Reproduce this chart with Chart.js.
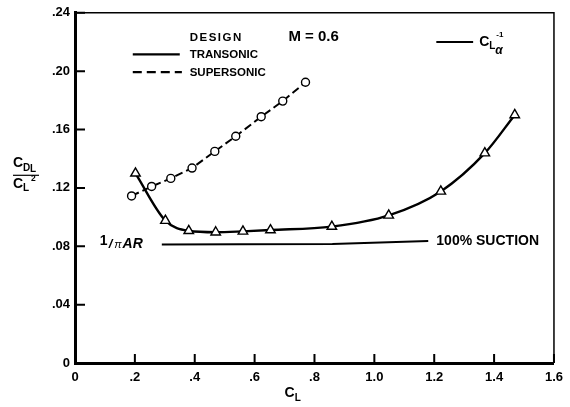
<!DOCTYPE html>
<html>
<head>
    <title>Induced drag factor vs CL</title>
    <script src="https://cdn.jsdelivr.net/npm/chart.js"></script>
    <style>
        body { margin: 0; background: #fff; }
    </style>
</head>
<body>
    <canvas id="dragChart" width="570" height="407"></canvas>

    <script>
        // CL (x) and CDL / CL^2 (y)
        var supersonicCL = [0.189, 0.256, 0.320, 0.391, 0.467, 0.537, 0.622, 0.694, 0.770];
        var supersonicCD = [0.1145, 0.1210, 0.1265, 0.1336, 0.1450, 0.1554, 0.1688, 0.1795, 0.1924];

        var transonicCL = [0.202, 0.302, 0.380, 0.470, 0.561, 0.653, 0.858, 1.048, 1.222, 1.369, 1.469];
        var transonicCD = [0.1300, 0.0976, 0.0906, 0.0896, 0.0902, 0.0911, 0.0935, 0.1012, 0.1176, 0.1438, 0.1700];

        var suctionCL = [0.29, 0.55, 0.86, 1.18];
        var suctionCD = [0.0812, 0.0813, 0.0815, 0.0836];

        var xTickValues = [0, 0.2, 0.4, 0.6, 0.8, 1.0, 1.2, 1.4, 1.6];
        var xTickLabels = ['0', '.2', '.4', '.6', '.8', '1.0', '1.2', '1.4', '1.6'];
        var yTickValues = [0, 0.04, 0.08, 0.12, 0.16, 0.20, 0.24];
        var yTickLabels = ['0', '.04', '.08', '.12', '.16', '.20', '.24'];

        function toPoints(xs, ys) {
            return xs.map(function (v, i) { return { x: v, y: ys[i] }; });
        }

        var FONT = '"Liberation Sans", Arial, sans-serif';

        function txt(ctx, s, x, y, size, style) {
            ctx.font = (style || 'bold') + ' ' + size + 'px ' + FONT;
            ctx.fillText(s, x, y);
            return ctx.measureText(s).width;
        }

        // frame, inward tick marks and all the text on the sheet
        var paperPlugin = {
            id: 'paper',
            afterDraw: function (chart) {
                var ctx = chart.ctx, a = chart.chartArea;
                var xs = chart.scales.x, ys = chart.scales.y;
                function px(v) { return xs.getPixelForValue(v); }
                function py(v) { return ys.getPixelForValue(v); }

                ctx.save();
                ctx.strokeStyle = '#000';
                ctx.fillStyle = '#000';

                ctx.lineWidth = 1.5;
                ctx.beginPath();
                ctx.moveTo(a.left, a.top);
                ctx.lineTo(a.right, a.top);
                ctx.lineTo(a.right, a.bottom);
                ctx.stroke();

                ctx.lineWidth = 2;
                ctx.beginPath();
                xTickValues.forEach(function (v) {
                    ctx.moveTo(px(v), a.bottom);
                    ctx.lineTo(px(v), a.bottom - 9);
                });
                yTickValues.forEach(function (v) {
                    ctx.moveTo(a.left, py(v));
                    ctx.lineTo(a.left + 10, py(v));
                });
                ctx.stroke();

                ctx.textBaseline = 'middle';
                ctx.textAlign = 'left';

                // legend block
                ctx.letterSpacing = '1.5px';
                txt(ctx, 'DESIGN', px(0.383), py(0.2229), 11.5);
                ctx.letterSpacing = '0px';
                txt(ctx, 'TRANSONIC', px(0.383), py(0.2112), 11.5);
                txt(ctx, 'SUPERSONIC', px(0.383), py(0.1990), 11.5);

                ctx.lineWidth = 2.2;
                ctx.beginPath();
                ctx.moveTo(px(0.193), py(0.2115));
                ctx.lineTo(px(0.350), py(0.2115));
                ctx.stroke();
                ctx.setLineDash([9, 5]);
                ctx.beginPath();
                ctx.moveTo(px(0.193), py(0.1993));
                ctx.lineTo(px(0.357), py(0.1993));
                ctx.stroke();
                ctx.setLineDash([]);

                txt(ctx, 'M = 0.6', px(0.713), py(0.2235), 15);

                // CL alpha ^-1 key
                ctx.lineWidth = 2;
                ctx.beginPath();
                ctx.moveTo(px(1.207), py(0.2200));
                ctx.lineTo(px(1.330), py(0.2200));
                ctx.stroke();
                var cx = px(1.350), cy = py(0.2200);
                var w = txt(ctx, 'C', cx, cy, 14);
                txt(ctx, 'L', cx + w, cy + 4, 10);
                txt(ctx, '-1', cx + w + 7, cy - 7, 8);
                txt(ctx, 'α', cx + w + 6, cy + 9, 12, 'bold italic');

                txt(ctx, '100% SUCTION', px(1.207), py(0.0836), 14);

                // 1 / pi AR
                var rx = px(0.083), ry = py(0.0815);
                var w1 = txt(ctx, '1', rx, ry - 3, 14);
                var w2 = txt(ctx, '/', rx + w1 + 1, ry, 13, 'bold italic');
                var w3 = txt(ctx, 'π', rx + w1 + w2 + 3, ry + 1, 11, 'italic');
                txt(ctx, 'AR', rx + w1 + w2 + w3 + 4, ry, 14, 'bold italic');

                // y axis title: C_DL over C_L^2
                var lx = 13, top = a.top + 150;
                var wc = txt(ctx, 'C', lx, top, 14);
                txt(ctx, 'D', lx + wc, top + 5, 10);
                txt(ctx, 'L', lx + wc + 7, top + 6, 10);
                ctx.lineWidth = 1.2;
                ctx.beginPath();
                ctx.moveTo(lx, top + 12.5);
                ctx.lineTo(lx + 26, top + 12.5);
                ctx.stroke();
                var wd = txt(ctx, 'C', lx, top + 21, 14);
                txt(ctx, 'L', lx + wd, top + 25, 10);
                txt(ctx, '2', lx + wd + 8, top + 16, 8.5);

                // x axis title: C_L
                var tx = px(0.70), tyy = a.bottom + 30;
                var wx = txt(ctx, 'C', tx, tyy, 14);
                txt(ctx, 'L', tx + wx, tyy + 5, 10);

                ctx.restore();
            }
        };

        var ctx = document.getElementById('dragChart').getContext('2d');
        var chart = new Chart(ctx, {
            type: 'scatter',
            data: {
                datasets: [{
                    label: 'Supersonic',
                    data: toPoints(supersonicCL, supersonicCD),
                    showLine: true,
                    borderColor: '#000',
                    borderWidth: 2,
                    borderDash: [8, 4],
                    tension: 0,
                    pointStyle: 'circle',
                    pointRadius: 4,
                    pointBackgroundColor: '#fff',
                    pointBorderColor: '#000',
                    pointBorderWidth: 1.4
                }, {
                    label: 'Transonic',
                    data: toPoints(transonicCL, transonicCD),
                    showLine: true,
                    borderColor: '#000',
                    borderWidth: 2.4,
                    cubicInterpolationMode: 'monotone',
                    pointStyle: 'triangle',
                    pointRadius: 5.5,
                    pointBackgroundColor: '#fff',
                    pointBorderColor: '#000',
                    pointBorderWidth: 1.4
                }, {
                    label: '100% suction',
                    data: toPoints(suctionCL, suctionCD),
                    showLine: true,
                    borderColor: '#000',
                    borderWidth: 2,
                    tension: 0,
                    pointRadius: 0
                }]
            },
            options: {
                responsive: false,
                animation: false,
                events: [],
                layout: { padding: { top: 11, right: 14, left: 0, bottom: 0 } },
                plugins: {
                    legend: { display: false },
                    tooltip: { enabled: false }
                },
                scales: {
                    x: {
                        type: 'linear',
                        min: 0,
                        max: 1.6,
                        afterBuildTicks: function (s) {
                            s.ticks = xTickValues.map(function (v) { return { value: v }; });
                        },
                        afterFit: function (s) { s.height = 44; },
                        grid: { display: false, drawTicks: false },
                        border: { display: true, color: '#000', width: 3 },
                        ticks: {
                            color: '#000',
                            padding: 7,
                            maxRotation: 0,
                            autoSkip: false,
                            font: { family: FONT, size: 13, weight: 'bold' },
                            callback: function (v) {
                                var i = xTickValues.findIndex(function (t) { return Math.abs(t - v) < 1e-6; });
                                return i >= 0 ? xTickLabels[i] : '';
                            }
                        }
                    },
                    y: {
                        type: 'linear',
                        min: 0,
                        max: 0.24,
                        afterBuildTicks: function (s) {
                            s.ticks = yTickValues.map(function (v) { return { value: v }; });
                        },
                        afterFit: function (s) { s.width = 75; },
                        grid: { display: false, drawTicks: false },
                        border: { display: true, color: '#000', width: 3 },
                        ticks: {
                            color: '#000',
                            padding: 5,
                            autoSkip: false,
                            font: { family: FONT, size: 13, weight: 'bold' },
                            callback: function (v) {
                                var i = yTickValues.findIndex(function (t) { return Math.abs(t - v) < 1e-6; });
                                return i >= 0 ? yTickLabels[i] : '';
                            }
                        }
                    }
                }
            },
            plugins: [paperPlugin]
        });
    </script>
</body>
</html>
